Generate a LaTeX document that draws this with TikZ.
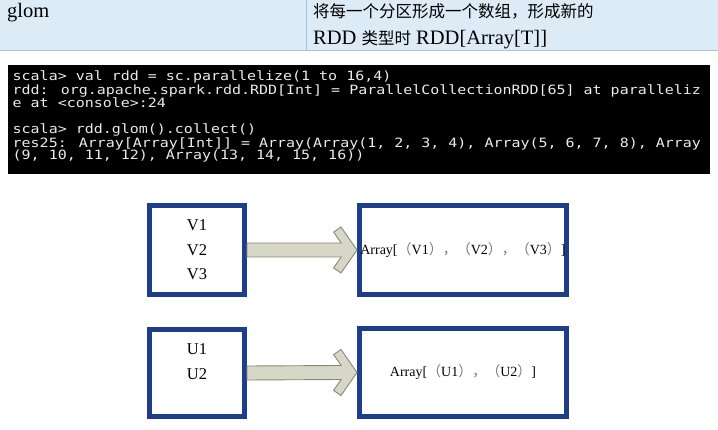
\documentclass[tikz,border=0pt]{standalone}
\usepackage{fontspec}
\setmainfont{Liberation Serif}
\newfontfamily\cjk{Noto Sans CJK SC}
\newfontfamily\termfont[FakeStretch=1.17]{DejaVu Sans Mono}
\usetikzlibrary{positioning,calc}

\definecolor{hdrblue}{RGB}{221,235,247}
\definecolor{hdrline}{RGB}{160,196,228}
\definecolor{navy}{RGB}{30,62,140}
\definecolor{arrfill}{RGB}{214,215,198}
\definecolor{arrline}{RGB}{135,137,122}
\definecolor{termtxt}{RGB}{235,235,235}
\definecolor{fwgray}{RGB}{120,120,120}
\newcommand\fw[1]{{\cjk\color{fwgray}#1}}
\newcommand\zh[1]{{\cjk\fontsize{16.5}{20}\selectfont #1}}

\begin{document}
\begin{tikzpicture}[x=1pt,y=-1pt,
  part/.style={draw=navy, line width=5pt, fill=white, inner sep=0pt, align=center},
  src/.style={part, minimum width=95pt, font=\fontsize{16.5}{24.5}\selectfont},
  dst/.style={part, minimum width=207pt, font=\fontsize{14}{17}\selectfont},
  fat/.style={fill=arrfill, draw=arrline, line width=0.9pt, line join=miter},
  termline/.style={anchor=north west, inner sep=0pt, text=termtxt, align=left, font=\termfont\fontsize{12.8}{12.4}\selectfont},
  cell/.style={anchor=base west, inner sep=0pt, font=\fontsize{20.5}{24}\selectfont}]
\useasboundingbox (0,0) rectangle (718,430);

% table row
\node[fill=hdrblue, minimum width=718pt, minimum height=50pt, inner sep=0pt, anchor=north west] (row) at (0,0) {};
\draw[hdrline, line width=1.2pt] (row.south west) -- (row.south east);
\draw[hdrline, line width=0.8pt] ([xshift=306pt]row.north west) -- ([xshift=306pt]row.south west);
\node[cell] (name) at (7,18) {glom};
\node[cell] (desc1) at (313,18) {\zh{将每一个分区形成一个数组，形成新的}};
\node[cell] (desc2) at (313,45) {RDD \zh{类型时} RDD[Array[T]]};

% console
\node[fill=black, minimum width=702pt, minimum height=109pt, inner sep=0pt] (term) at (359,119.5) {};
\node[termline] (in1) at (12.5,71) {scala> val rdd = sc.parallelize(1 to 16,4)\\
rdd: org.apache.spark.rdd.RDD[Int] = ParallelCollectionRDD[65] at paralleliz\\
e at <console>:24};
\node[termline] (in2) at (12.5,124) {scala> rdd.glom().collect()\\
res25: Array[Array[Int]] = Array(Array(1, 2, 3, 4), Array(5, 6, 7, 8), Array\\
(9, 10, 11, 12), Array(13, 14, 15, 16))};

% partitions -> arrays
\node[src, minimum height=89pt] (v) at (197,250) {V1\\V2\\V3};
\node[dst, minimum height=89pt] (va) at (463,250) {Array[\fw{（}V1\fw{）}\fw{，}\fw{（}V2\fw{）}\fw{，}\fw{（}V3\fw{）}]};
\node[src, minimum height=87pt] (u) at (197,373) {};
\node[font=\fontsize{16.5}{24.5}\selectfont, align=center, inner sep=0pt] (ulist) at (197,361.5) {U1\\U2};
\node[dst, minimum height=88pt, text width=207pt, align=center] (ua) at (463,372.5) {Array[\fw{（}U1\fw{）}\fw{，}\fw{（}U2\fw{）}]\hspace*{10pt}};

\foreach \a/\b in {v/va,u/ua}
  \draw[fat] ($(\a.east)+(0,-7)$) -- ($(\b.west)+(-15.8,-7)$) -- ($(\b.west)+(-23.4,-17.9)$)
    -- ($(\b.west)+(-16,-23)$) -- (\b.west) -- ($(\b.west)+(-16,23)$)
    -- ($(\b.west)+(-23.4,17.9)$) -- ($(\b.west)+(-15.8,7)$) -- ($(\a.east)+(0,7)$) -- cycle;
\end{tikzpicture}
\end{document}
